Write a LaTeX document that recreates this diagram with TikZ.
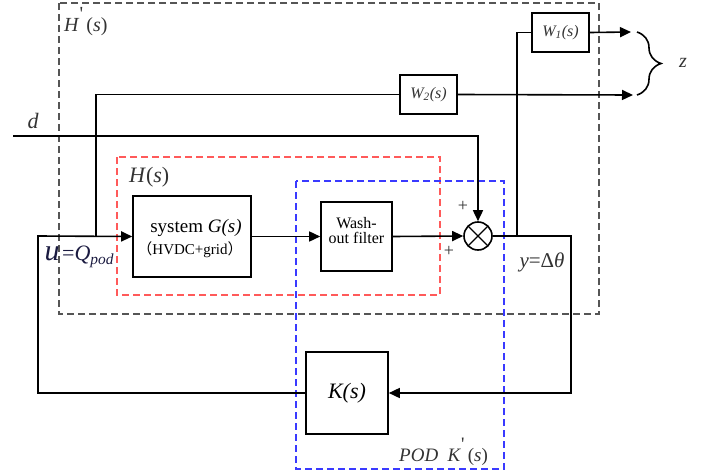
\documentclass[tikz,border=0pt]{standalone}
\usepackage{fontspec}
\setmainfont{Liberation Serif}
\newfontfamily\cjk{Noto Sans CJK SC}
\usetikzlibrary{arrows.meta,decorations.pathreplacing}
\definecolor{podgray}{HTML}{555555}
\definecolor{podred}{HTML}{FF5A5A}
\definecolor{podblue}{HTML}{3A3AFF}
\definecolor{podtext}{HTML}{333333}
\definecolor{podnavy}{HTML}{1A1A40}
\newcommand{\fs}[1]{\fontsize{#1}{#1}\selectfont}
\newcommand{\tick}{\raisebox{.55em}{\upshape\textquotesingle}}

\begin{document}
\begin{tikzpicture}[x=1pt,y=-1pt,
  blk/.style={draw, line width=1.6pt, inner sep=0pt, align=center},
  sig/.style={draw, line width=1.6pt, -{Triangle[length=11pt,width=10pt]}},
  wire/.style={draw, line width=1.6pt},
  frame/.style={line width=1.1pt, dash pattern=on 7pt off 4pt},
  lbl/.style={inner sep=0pt, text=podtext}
]
  \useasboundingbox (0,0) rectangle (713,474);

  % dashed frames
  \draw[frame,podgray] (59,3) rectangle (599,314);
  \draw[frame,podred] (117,157) rectangle (440,295);
  \draw[frame,podblue] (296,181) rectangle (504,469);

  % blocks
  \node[blk, minimum width=118pt, minimum height=81pt] (sys) at (192,236.5) {};
  \node[font=\fs{19}] (systxt) at (196,228) {system \textit{G(s)}};
  \node[font=\fs{15}] (sysnote) at (190,250) {{\cjk （}HVDC+grid{\cjk ）}};
  \node[blk, minimum width=71pt, minimum height=69pt, font=\fs{16},
        text height=13pt] (wash) at (356.5,236.5)
        {\begin{tabular}{@{}c@{}}Wash-\\[-1pt]out filter\end{tabular}};
  \node[blk, minimum width=82pt, minimum height=82pt, font=\fs{22}\itshape]
    (kbox) at (347,393) {K(s)};
  \node[blk, minimum width=57pt, minimum height=39pt, font=\fs{16}\itshape,
        text=podtext] (wone) at (560.5,32.5) {W\textsubscript{1}(s)};
  \node[blk, minimum width=57pt, minimum height=39pt, font=\fs{16}\itshape,
        text=podtext] (wtwo) at (428.5,94.5) {W\textsubscript{2}(s)};
  \node[circle, draw, line width=1.6pt, minimum size=28pt, inner sep=0pt,
        path picture={
          \draw[line width=1.4pt]
            (path picture bounding box.north west) -- (path picture bounding box.south east)
            (path picture bounding box.north east) -- (path picture bounding box.south west);
        }] (sum) at (478,236) {};

  % points on the wires
  \coordinate (din) at (13,136);
  \coordinate (uin) at (38,236);
  \coordinate (tapu) at (96,236);
  \coordinate (tapy) at (517,236);
  \coordinate (yout) at (571,236);
  \coordinate (zone) at (631,32);
  \coordinate (ztwo) at (633,95);
  \coordinate (zb1) at (637,32);
  \coordinate (zb2) at (637,95);

  % connections
  \draw[sig] (kbox.west) -| (uin) -- (sys.west);
  \draw[sig] (sys.east) -- (wash.west);
  \draw[sig] (wash.east) -- (sum.west);
  \draw[sig] (din) -| (sum.north);
  \draw[sig] (sum.east) -- (yout) |- (kbox.east);
  \draw[wire] (tapu) |- (wtwo.west);
  \draw[sig] (wtwo.east) -- (ztwo);
  \draw[wire] (tapy) |- (wone.west);
  \draw[sig] (wone.east) -- (zone);
  \draw[line width=1.6pt, decorate, decoration={brace, amplitude=24pt}] (zb1) -- (zb2);

  % labels
  \node[lbl, anchor=west, font=\fs{20}] (hprime) at (64,22) {\textit{H}\tick\,(\textit{s})};
  \node[lbl, anchor=west, font=\fs{22}] (hlbl) at (129,177) {\textit{H}(\textit{s})};
  \node[lbl, font=\fs{22}\itshape] (dlbl) at (33,121) {d};
  \node[lbl, font=\fs{20}\itshape] (zlbl) at (683,63) {z};
  \node[lbl, font=\fs{18}] (pone) at (463,206) {+};
  \node[lbl, font=\fs{18}] (ptwo) at (449,251) {+};
  \node[inner sep=0pt, font=\fs{30}\itshape, text=podnavy] (ulbl) at (52,254) {u};
  \node[inner sep=0pt, anchor=west, font=\fs{22}, text=podnavy] (qlbl) at (62,257)
    {=\textit{Q}\textsubscript{\textit{pod}}};
  \node[lbl, font=\fs{21}] (ylbl) at (542,262) {\textit{y}=Δ\textit{θ}};
  \node[lbl, anchor=west, font=\fs{19}] (podlbl) at (399,452)
    {\textit{POD}\ \ \textit{K}\tick\,(\textit{s})};
\end{tikzpicture}
\end{document}
